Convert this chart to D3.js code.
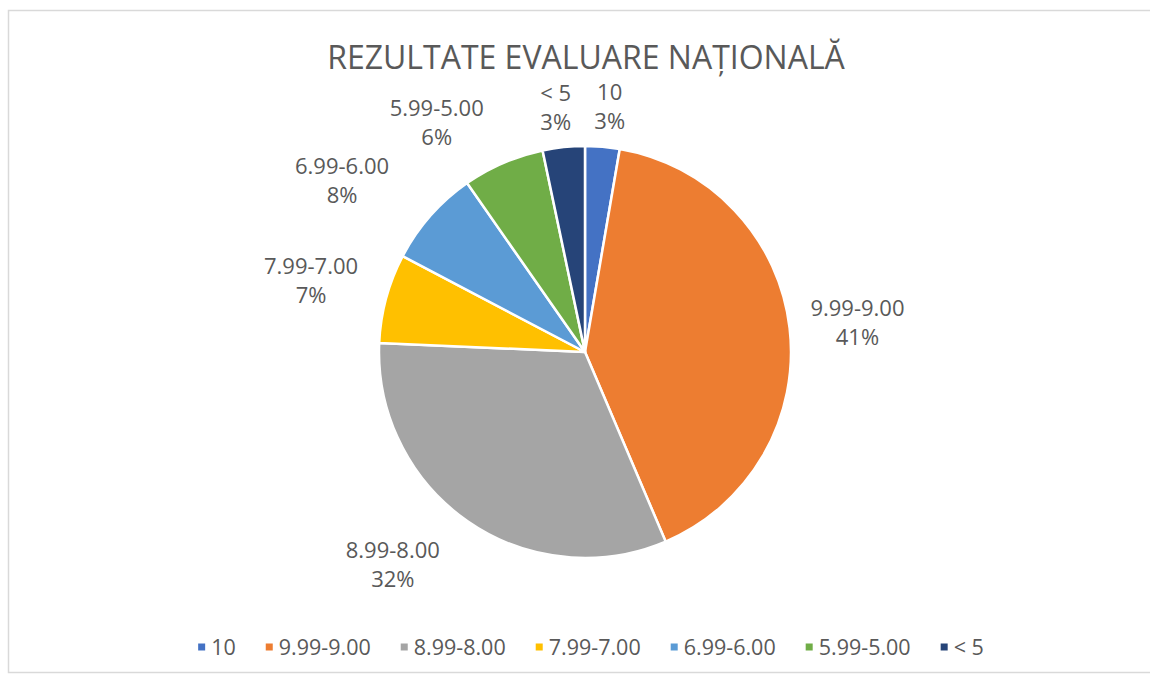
<!DOCTYPE html>
<html>
<head>
<meta charset="utf-8">
<script src="https://cdn.jsdelivr.net/npm/d3@7"></script>
<style>
  html, body { margin: 0; padding: 0; background: #ffffff; }
  svg { display: block; }
  text { font-family: "Open Sans", "Liberation Sans", sans-serif; fill: #595959; }
</style>
</head>
<body>
<svg id="chart" width="1150" height="678"></svg>
<script>
// ---- data ----
const title = "REZULTATE EVALUARE NAȚIONALĂ";
const categories = ["10", "9.99-9.00", "8.99-8.00", "7.99-7.00", "6.99-6.00", "5.99-5.00", "< 5"];
const values = [2.7, 40.9, 32.1, 7.0, 7.6, 6.4, 3.3];
const colors = ["#4472C4", "#ED7D31", "#A5A5A5", "#FFC000", "#5B9BD5", "#70AD47", "#264478"];
// label placement (layout): [angle offset from slice middle in degrees, distance from centre]
const labelLayout = [[0.9, 246], [0.6, 274], [7.3, 287], [-0.6, 283], [-6.3, 297], [-9.5, 273], [-0.9, 246]];

const W = 1150, H = 678;
const cx = 585, cy = 352, R = 206;

const svg = d3.select("#chart");

// frame
svg.append("rect")
  .attr("x", 8.5).attr("y", 10.5)
  .attr("width", W).attr("height", 662)
  .attr("fill", "#ffffff")
  .attr("stroke", "#d9d9d9").attr("stroke-width", 1.5);

// title
svg.append("text")
  .attr("x", 586).attr("y", 69)
  .attr("text-anchor", "middle")
  .style("font-size", "32px")
  .text(title);

const total = d3.sum(values);
const data = categories.map((c, i) => ({ cat: c, value: values[i], color: colors[i], i }));

const pie = d3.pie().value(d => d.value).sort(null);
const arc = d3.arc().innerRadius(0).outerRadius(R);
const arcs = pie(data);

const g = svg.append("g").attr("transform", `translate(${cx},${cy})`);
g.selectAll("path").data(arcs).join("path")
  .attr("d", arc)
  .attr("fill", d => d.data.color)
  .attr("stroke", "#ffffff")
  .attr("stroke-width", 2.5)
  .attr("stroke-linejoin", "round");

// labels
const fmt = v => Math.round(v / total * 100) + "%";
arcs.forEach((a, i) => {
  const mid = (a.startAngle + a.endAngle) / 2 + labelLayout[i][0] * Math.PI / 180;
  const dist = labelLayout[i][1];
  const x = Math.sin(mid) * dist, y = -Math.cos(mid) * dist;
  const t = g.append("text")
    .attr("text-anchor", "middle")
    .style("font-size", "22px");
  t.append("tspan").attr("x", x).attr("y", y - 14.5).attr("dy", "0.35em").text(a.data.cat);
  t.append("tspan").attr("x", x).attr("y", y + 14.5).attr("dy", "0.35em").text(fmt(a.data.value));
});

// legend
const lg = svg.append("g");
const items = lg.selectAll("g").data(data).join("g");
items.append("rect").attr("width", 7).attr("height", 7).attr("y", -3.5)
  .attr("fill", d => d.color);
items.append("text").attr("x", 13).attr("dy", "0.35em")
  .style("font-size", "21.5px")
  .text(d => d.cat);
let xpos = 0;
const gap = 30;
items.each(function () {
  const w = d3.select(this).select("text").node().getComputedTextLength() + 13;
  d3.select(this).attr("transform", `translate(${xpos},0)`);
  xpos += w + gap;
});
const legendWidth = xpos - gap;
lg.attr("transform", `translate(${591 - legendWidth / 2},647)`);
</script>
</body>
</html>
